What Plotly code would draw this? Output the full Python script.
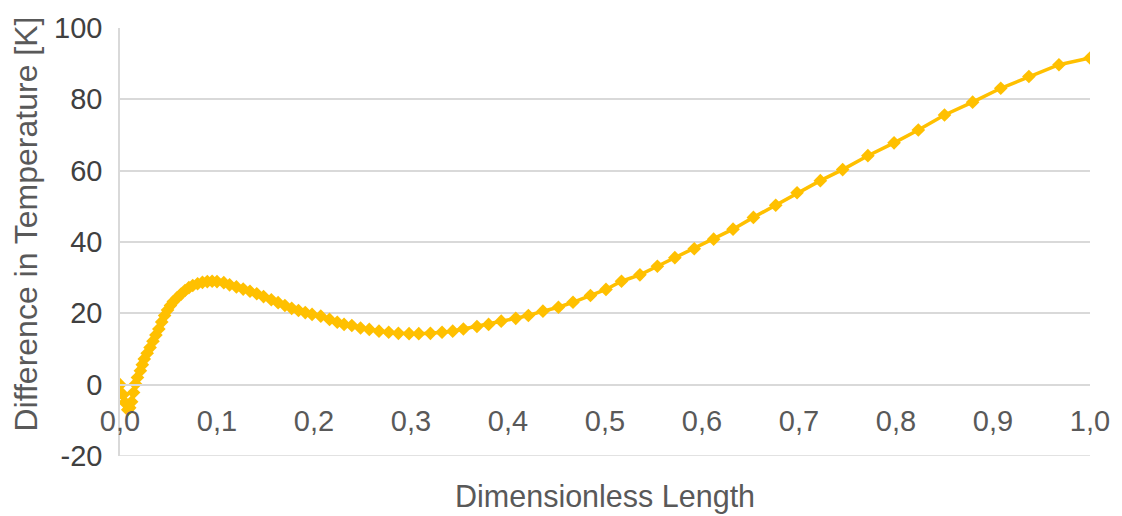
import plotly.graph_objects as go

# Dimensionless position along the length
length = [
    0.000, 0.003, 0.005, 0.008, 0.010, 0.012, 0.014, 0.016, 0.018, 0.021,
    0.023, 0.025, 0.028, 0.031, 0.034, 0.037, 0.040, 0.043, 0.046, 0.049,
    0.052, 0.055, 0.059, 0.063, 0.067, 0.071, 0.075, 0.080, 0.085, 0.090,
    0.095, 0.100, 0.107, 0.113, 0.120, 0.127, 0.134, 0.141, 0.148, 0.156,
    0.163, 0.170, 0.177, 0.184, 0.191, 0.198, 0.207, 0.216, 0.224, 0.231,
    0.239, 0.248, 0.257, 0.267, 0.277, 0.287, 0.298, 0.308, 0.320, 0.332,
    0.343, 0.354, 0.368, 0.380, 0.393, 0.408, 0.421, 0.436, 0.452, 0.467,
    0.485, 0.501, 0.517, 0.536, 0.554, 0.572, 0.592, 0.612, 0.632, 0.653,
    0.676, 0.698, 0.722, 0.745, 0.771, 0.798, 0.823, 0.850, 0.879, 0.908,
    0.937, 0.968, 1.000,
]

# Temperature difference [K]
delta_t = [
    0.0, -2.8, -5.0, -7.0, -6.5, -4.8, -2.2, 0.2, 2.0, 3.9,
    5.6, 7.2, 8.8, 10.4, 12.2, 13.9, 15.6, 17.6, 19.4, 20.9,
    22.2, 23.3, 24.4, 25.4, 26.4, 27.2, 27.8, 28.3, 28.7, 28.9,
    29.0, 28.9, 28.6, 28.0, 27.4, 26.8, 26.2, 25.5, 24.7, 23.8,
    23.0, 22.2, 21.4, 20.8, 20.2, 19.7, 19.2, 18.3, 17.5, 16.9,
    16.6, 15.9, 15.5, 15.0, 14.7, 14.4, 14.3, 14.3, 14.4, 14.7,
    15.0, 15.6, 16.3, 16.9, 17.8, 18.6, 19.4, 20.6, 21.7, 23.1,
    25.0, 26.7, 29.0, 30.8, 33.2, 35.6, 38.1, 40.8, 43.6, 46.9,
    50.3, 53.8, 57.2, 60.3, 64.2, 67.8, 71.4, 75.6, 79.2, 83.1,
    86.4, 89.7, 91.6,
]

x_ticks = [0.0, 0.1, 0.2, 0.3, 0.4, 0.5, 0.6, 0.7, 0.8, 0.9, 1.0]
x_tick_text = ["0,0", "0,1", "0,2", "0,3", "0,4", "0,5", "0,6", "0,7", "0,8", "0,9", "1,0"]
y_ticks = [-20, 0, 20, 40, 60, 80, 100]
y_tick_text = ["-20", "0", "20", "40", "60", "80", "100"]

gold = "#FFC000"
grid = "#D9D9D9"
font_family = "Liberation Sans, Arial, sans-serif"

fig = go.Figure(
    go.Scatter(
        x=length,
        y=delta_t,
        mode="lines+markers",
        line=dict(color=gold, width=3.5),
        marker=dict(symbol="diamond", size=10.5, color=gold),
        showlegend=False,
    )
)

fig.update_layout(
    width=1122,
    height=516,
    margin=dict(l=120, r=28, t=24, b=60),
    paper_bgcolor="white",
    plot_bgcolor="white",
    font=dict(family=font_family),
    xaxis=dict(
        range=[0, 1],
        tickvals=x_ticks,
        ticktext=x_tick_text,
        showgrid=False,
        zeroline=False,
        showline=True,
        linecolor=grid,
        linewidth=1.5,
        anchor="free",
        position=20 / 120,
        ticks="",
        ticklabelstandoff=11,
        tickfont=dict(size=29, color="#595959", family=font_family),
    ),
    yaxis=dict(
        range=[-20, 100],
        tickvals=y_ticks,
        ticktext=y_tick_text,
        showgrid=True,
        gridcolor=grid,
        gridwidth=1.5,
        zeroline=False,
        showline=True,
        linecolor=grid,
        linewidth=1.5,
        ticks="",
        ticklabelstandoff=10,
        tickfont=dict(size=29, color="#404040", family=font_family),
    ),
    shapes=[
        # gridline along the bottom edge of the plotting area
        dict(
            type="line", xref="paper", yref="y",
            x0=0, x1=1, y0=-20, y1=-20,
            line=dict(color=grid, width=1.5),
            layer="below",
        ),
    ],
    annotations=[
        dict(
            text="Dimensionless Length",
            xref="paper", yref="paper",
            x=0.5005, y=-0.095,
            xanchor="center", yanchor="middle",
            showarrow=False,
            font=dict(size=30.5, color="#595959", family=font_family),
        ),
        dict(
            text="Difference in Temperature [K]",
            xref="paper", yref="paper",
            x=-0.0965, y=0.5417,
            xanchor="center", yanchor="middle",
            textangle=-90,
            showarrow=False,
            font=dict(size=32, color="#595959", family=font_family),
        ),
    ],
)

fig.write_html("out.html")
